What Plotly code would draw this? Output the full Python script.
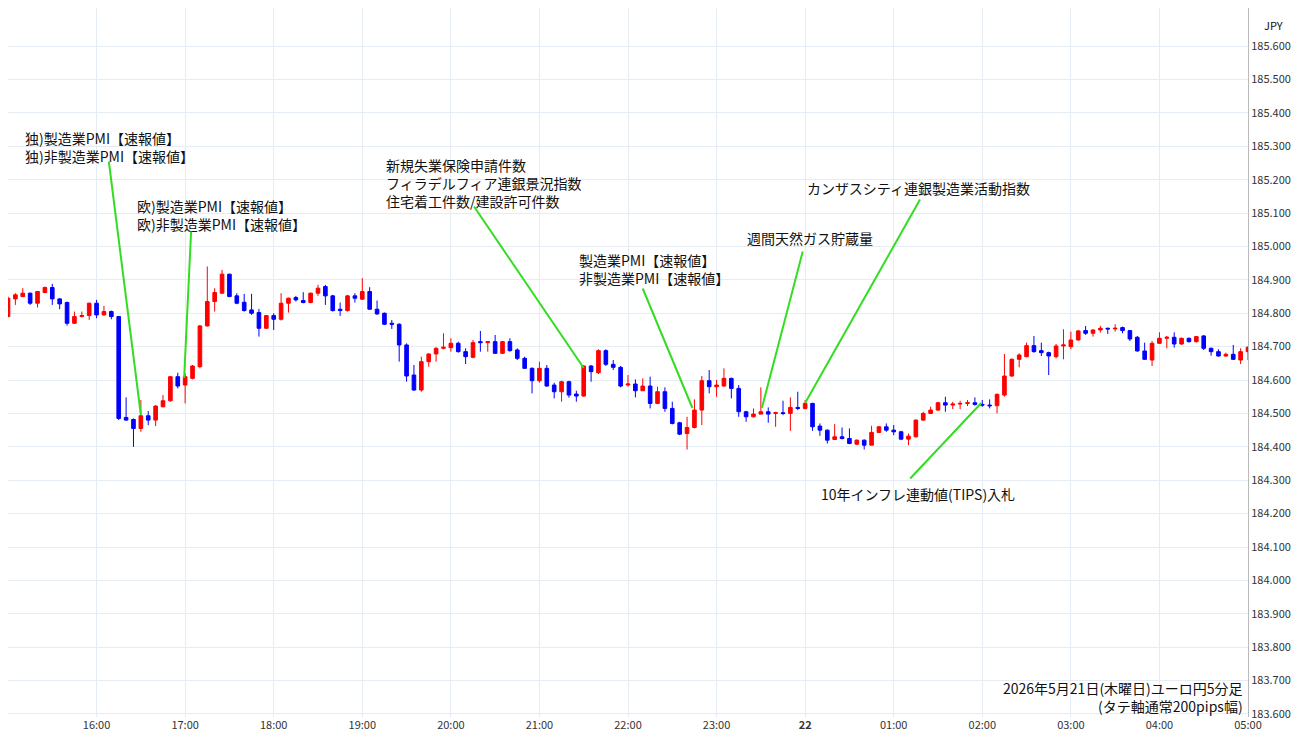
import pandas as pd
import plotly.graph_objects as go

opens = [184.790,184.843,184.850,184.860,184.830,184.862,184.877,184.843,184.832,184.770,184.790,184.793,
184.830,184.795,184.805,184.790,184.488,184.482,184.455,184.493,184.480,184.520,184.538,184.610,
184.585,184.605,184.640,184.762,184.835,184.860,184.917,184.852,184.833,184.810,184.802,184.755,
184.793,184.782,184.830,184.847,184.838,184.832,184.860,184.880,184.852,184.812,184.808,184.852,
184.842,184.865,184.812,184.800,184.770,184.767,184.705,184.615,184.570,184.655,184.678,184.695,
184.697,184.710,184.685,184.668,184.715,184.712,184.715,184.680,184.715,184.690,184.665,184.635,
184.598,184.635,184.585,184.565,184.595,184.558,184.552,184.642,184.622,184.688,184.647,184.638,
184.585,184.588,184.568,184.582,184.530,184.565,184.515,184.472,184.440,184.458,184.510,184.598,
184.580,184.582,184.605,184.575,184.505,184.490,184.498,184.505,184.500,184.502,184.500,184.518,
184.515,184.530,184.462,184.450,184.422,184.430,184.425,184.408,184.420,184.405,184.443,184.460,
184.450,184.445,184.423,184.430,184.480,184.500,184.510,184.532,184.525,184.528,184.530,184.532,
184.527,184.525,184.523,184.555,184.612,184.662,184.670,184.703,184.688,184.682,184.670,184.702,
184.700,184.720,184.748,184.740,184.750,184.755,184.753,184.757,184.748,184.728,184.687,184.660,
184.710,184.725,184.728,184.708,184.725,184.715,184.732,184.695,184.685,184.672,184.677,184.660,
184.685]
highs = [184.850,184.860,184.875,184.862,184.867,184.880,184.888,184.845,184.835,184.805,184.805,184.832,
184.840,184.822,184.808,184.792,184.548,184.485,184.540,184.507,184.525,184.555,184.612,184.622,
184.620,184.645,184.765,184.940,184.875,184.930,184.918,184.860,184.858,184.858,184.813,184.795,
184.800,184.860,184.847,184.852,184.863,184.862,184.885,184.885,184.855,184.832,184.855,184.860,
184.905,184.878,184.838,184.802,184.780,184.770,184.710,184.645,184.670,184.680,184.698,184.740,
184.725,184.715,184.695,184.720,184.747,184.715,184.735,184.717,184.725,184.695,184.670,184.638,
184.655,184.645,184.592,184.598,184.598,184.568,184.645,184.645,184.692,184.692,184.660,184.642,
184.615,184.602,184.605,184.610,184.580,184.578,184.535,184.475,184.490,184.542,184.612,184.630,
184.600,184.635,184.607,184.585,184.508,184.515,184.578,184.518,184.505,184.538,184.548,184.565,
184.540,184.532,184.470,184.452,184.468,184.458,184.455,184.422,184.422,184.463,184.462,184.470,
184.465,184.448,184.440,184.482,184.505,184.520,184.535,184.550,184.535,184.538,184.540,184.548,
184.540,184.542,184.560,184.678,184.665,184.680,184.712,184.732,184.712,184.685,184.708,184.752,
184.745,184.750,184.762,184.752,184.762,184.757,184.767,184.760,184.750,184.732,184.712,184.717,
184.743,184.732,184.743,184.727,184.727,184.732,184.735,184.697,184.692,184.682,184.705,184.695,
184.702]
lows = [184.788,184.825,184.848,184.825,184.817,184.860,184.825,184.812,184.763,184.768,184.788,184.780,
184.785,184.793,184.782,184.480,184.478,184.400,184.445,184.465,184.462,184.518,184.535,184.575,
184.530,184.602,184.635,184.760,184.805,184.857,184.848,184.827,184.805,184.795,184.730,184.753,
184.750,184.778,184.802,184.835,184.830,184.830,184.852,184.825,184.805,184.792,184.805,184.832,
184.840,184.810,184.795,184.765,184.753,184.655,184.595,184.568,184.565,184.640,184.655,184.692,
184.685,184.682,184.648,184.665,184.685,184.685,184.678,184.678,184.685,184.660,184.633,184.560,
184.592,184.580,184.545,184.535,184.547,184.535,184.550,184.595,184.618,184.642,184.630,184.578,
184.580,184.548,184.567,184.515,184.528,184.505,184.467,184.435,184.392,184.455,184.465,184.560,
184.550,184.580,184.545,184.490,184.475,184.488,184.498,184.472,184.460,184.495,184.448,184.510,
184.512,184.448,184.433,184.410,184.420,184.422,184.408,184.405,184.392,184.405,184.442,184.445,
184.435,184.420,184.405,184.428,184.478,184.498,184.508,184.505,184.513,184.513,184.522,184.523,
184.520,184.515,184.500,184.550,184.610,184.638,184.668,184.682,184.672,184.615,184.665,184.662,
184.692,184.718,184.735,184.730,184.742,184.738,184.745,184.740,184.717,184.685,184.660,184.642,
184.708,184.695,184.697,184.705,184.712,184.712,184.690,184.673,184.670,184.670,184.660,184.648,
184.660]
closes = [184.845,184.855,184.860,184.830,184.865,184.877,184.843,184.828,184.770,184.790,184.793,184.830,
184.795,184.805,184.790,184.485,184.480,184.455,184.493,184.480,184.522,184.538,184.610,184.582,
184.610,184.642,184.762,184.835,184.862,184.917,184.850,184.830,184.808,184.800,184.755,184.793,
184.782,184.830,184.845,184.840,184.832,184.860,184.875,184.852,184.808,184.808,184.852,184.845,
184.865,184.812,184.798,184.767,184.767,184.705,184.612,184.570,184.655,184.678,184.695,184.698,
184.710,184.685,184.670,184.712,184.712,184.715,184.680,184.715,184.688,184.665,184.635,184.598,
184.635,184.582,184.565,184.595,184.555,184.552,184.642,184.625,184.688,184.647,184.638,184.582,
184.588,184.568,184.582,184.530,184.565,184.515,184.470,184.438,184.458,184.510,184.598,184.580,
184.585,184.605,184.575,184.505,184.490,184.498,184.505,184.498,184.502,184.500,184.518,184.515,
184.530,184.460,184.450,184.420,184.430,184.425,184.410,184.420,184.405,184.443,184.460,184.450,
184.445,184.423,184.432,184.480,184.500,184.510,184.532,184.525,184.528,184.530,184.532,184.527,
184.525,184.523,184.557,184.612,184.662,184.675,184.703,184.685,184.682,184.672,184.702,184.705,
184.720,184.747,184.740,184.750,184.755,184.753,184.755,184.748,184.723,184.687,184.662,184.710,
184.725,184.728,184.708,184.725,184.715,184.730,184.695,184.685,184.672,184.677,184.662,184.685,
184.698]

times = pd.date_range("2026-05-21 15:00", periods=len(closes), freq="5min")
tick_vals = pd.date_range("2026-05-21 15:00", "2026-05-22 05:00", freq="1h")
tick_text = ["15:00","16:00","17:00","18:00","19:00","20:00","21:00","22:00","23:00",
             "<b>22</b>","01:00","02:00","03:00","04:00","05:00"]
y_ticks = [round(183.6 + 0.1 * i, 1) for i in range(21)]

events = [
    ("独)製造業PMI【速報値】<br>独)非製造業PMI【速報値】", 25, 128, 108, 160, 140, 415),
    ("欧)製造業PMI【速報値】<br>欧)非製造業PMI【速報値】", 136, 196, 190, 230, 183, 378),
    ("新規失業保険申請件数<br>フィラデルフィア連銀景況指数<br>住宅着工件数/建設許可件数", 384, 155, 470, 205, 580, 368),
    ("製造業PMI【速報値】<br>非製造業PMI【速報値】", 575, 250, 638, 287, 688, 408),
    ("週間天然ガス貯蔵量", 742, 228, 798, 250, 757, 408),
    ("カンザスシティ連銀製造業活動指数", 802, 178, 915, 198, 800, 403),
    ("10年インフレ連動値(TIPS)入札", 816, 484, 903, 480, 975, 403),
]

fig = go.Figure(go.Candlestick(
    x=times, open=opens, high=highs, low=lows, close=closes,
    increasing=dict(line=dict(color="#ff0000", width=1), fillcolor="#ff0000"),
    decreasing=dict(line=dict(color="#0000ff", width=1), fillcolor="#0000ff"),
    whiskerwidth=0, showlegend=False,
))

OX, OY, PW, PH = 8.0, 8.0, 1232.0, 709.0
def px(x): return (x - OX) / PW
def py(y): return 1 - (y - OY) / PH

ann = []
for txt, tx, ty, ax0, ay0, ax1, ay1 in events:
    ann.append(dict(xref="paper", yref="paper", x=px(tx - 2), y=py(ty - 2), text=txt,
                    showarrow=False, xanchor="left", yanchor="top", align="left"))
    ann.append(dict(xref="x domain", yref="y domain", axref="x domain", ayref="y domain",
                    x=px(ax1), y=py(ay1), ax=px(ax0), ay=py(ay0),
                    text="", showarrow=True, arrowhead=0, arrowwidth=2, arrowcolor="#33dd22",
                    standoff=0, startstandoff=0))
ann.append(dict(xref="paper", yref="paper", x=px(1240), y=py(718), xanchor="right", yanchor="bottom",
                text="2026年5月21日(木曜日)ユーロ円5分足<br>(タテ軸通常200pips幅)",
                showarrow=False, align="right", xshift=-3))
ann.append(dict(xref="paper", yref="paper", x=px(1265), y=py(15), xanchor="center",
                text="JPY", showarrow=False, font=dict(size=11)))

fig.update_layout(
    width=1292, height=737, margin=dict(l=0, r=52, t=0, b=28),
    paper_bgcolor="white", plot_bgcolor="white",
    font=dict(family="Noto Sans CJK JP", size=14, color="#111"),
    annotations=ann,
    xaxis=dict(range=["2026-05-21 15:00:00", "2026-05-22 05:00:00"], rangeslider=dict(visible=False),
               tickvals=tick_vals, ticktext=tick_text, showgrid=True, gridcolor="#e6ecf4",
               tickfont=dict(size=11, color="#333"), zeroline=False),
    yaxis=dict(side="right", range=[183.591, 185.714], tickvals=y_ticks, tickformat=".3f",
               showgrid=True, gridcolor="#e6ecf4", tickfont=dict(size=11, color="#333"),
               showline=True, linecolor="#bbbbbb", zeroline=False),
)
fig.write_html("out.html")
